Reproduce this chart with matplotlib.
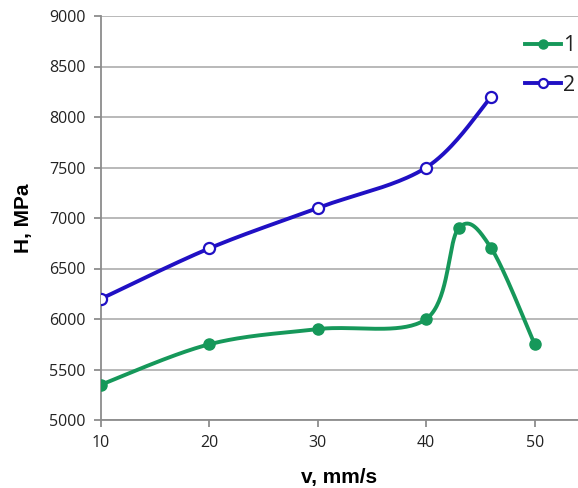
import matplotlib.pyplot as plt
import numpy as np

# series 1
v1 = [10, 20, 30, 40, 43, 46, 50]
h1 = [5350, 5750, 5900, 6000, 6900, 6700, 5750]
# series 2
v2 = [10, 20, 30, 40, 46]
h2 = [6200, 6700, 7100, 7500, 8200]

xticks = [10, 20, 30, 40, 50]
yticks = [5000, 5500, 6000, 6500, 7000, 7500, 8000, 8500, 9000]


def smooth(x, y, n=40):
    # excel-like smoothed line (bezier through points, catmull-rom tangents)
    x = np.asarray(x, float)
    y = np.asarray(y, float)
    px = np.concatenate([[x[0]], x, [x[-1]]])
    py = np.concatenate([[y[0]], y, [y[-1]]])
    xs, ys = [], []
    t = np.linspace(0, 1, n)
    for i in range(1, len(px) - 2):
        p0 = np.array([px[i], py[i]])
        p3 = np.array([px[i + 1], py[i + 1]])
        c1 = p0 + (np.array([px[i + 1], py[i + 1]]) - np.array([px[i - 1], py[i - 1]])) / 6
        c2 = p3 - (np.array([px[i + 2], py[i + 2]]) - np.array([px[i], py[i]])) / 6
        b = ((1 - t) ** 3)[:, None] * p0 + (3 * (1 - t) ** 2 * t)[:, None] * c1 \
            + (3 * (1 - t) * t ** 2)[:, None] * c2 + (t ** 3)[:, None] * p3
        xs.extend(b[:, 0])
        ys.extend(b[:, 1])
    return xs, ys


green = '#16985A'
blue = '#2010C4'

fig = plt.figure(figsize=(5.78, 4.88), dpi=100)
ax = fig.add_axes([101 / 578, 1 - 420 / 488, 1 - 101 / 578, (420 - 16) / 488])

sx, sy = smooth(v1, h1)
ax.plot(sx, sy, color=green, lw=2.8, zorder=3)
ax.plot(v1, h1, 'o', color=green, ms=8, zorder=4)
sx, sy = smooth(v2, h2)
ax.plot(sx, sy, color=blue, lw=2.8, zorder=3)
ax.plot(v2, h2, 'o', color=blue, mfc='white', mew=1.6, ms=8, zorder=4)

ax.set_xlim(10, 54)
ax.set_ylim(5000, 9000)
ax.set_xticks(xticks)
ax.set_yticks(yticks)
ax.grid(axis='y', color='#b3b3b3', lw=1.3)
ax.set_axisbelow(True)
for s in ['top', 'right']:
    ax.spines[s].set_visible(False)
for s in ['left', 'bottom']:
    ax.spines[s].set_color('#8c8c8c')
    ax.spines[s].set_linewidth(1.3)
ax.tick_params(colors='#8c8c8c', length=5, width=1.3, labelcolor='#222222',
               labelsize=11.5, pad=6)
for lab in ax.get_xticklabels() + ax.get_yticklabels():
    lab.set_fontfamily('Open Sans')

ax.set_xlabel('v, mm/s', fontsize=15, fontweight='bold', family='Liberation Sans', labelpad=12)
ax.set_ylabel('H, MPa', fontsize=15, fontweight='bold', family='Liberation Sans', labelpad=12)

# legend
l1, = ax.plot([], [], '-o', color=green, lw=2.8, ms=6.5)
l2, = ax.plot([], [], '-o', color=blue, lw=2.8, ms=6.5, mfc='white', mew=1.6)
leg = ax.legend([l1, l2], ['1', '2'], loc='upper right', bbox_to_anchor=(1.035, 1.0),
                frameon=False, handlelength=1.65, handletextpad=0.1, labelspacing=0.85,
                prop={'family': 'Open Sans', 'size': 15.5})
for t in leg.get_texts():
    t.set_color('#222222')

fig.savefig('out.png', dpi=100)
